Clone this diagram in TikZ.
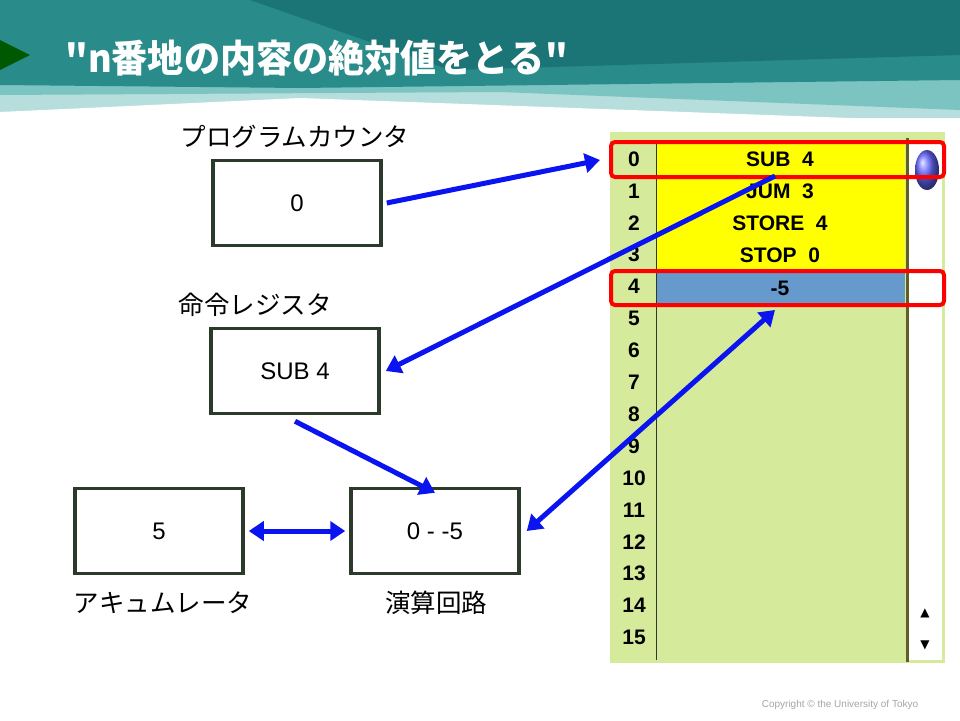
\documentclass[tikz,border=0pt]{standalone}
\usepackage{fontspec}
\setmainfont{Liberation Sans}
\newfontfamily\cjk{Noto Sans CJK JP}
\newfontfamily\djsym{DejaVu Sans}
\usetikzlibrary{arrows.meta}
\definecolor{teal1}{HTML}{1B7476}
\definecolor{teal2}{HTML}{2A8C8A}
\definecolor{teal3}{HTML}{7CC4C2}
\definecolor{teal4}{HTML}{B5DEDC}
\definecolor{boxc}{HTML}{2B3A2B}
\definecolor{lg}{HTML}{D6EA9C}
\definecolor{ylw}{HTML}{FFFF00}
\definecolor{mb}{HTML}{6699CC}
\definecolor{arr}{HTML}{0A14F0}
\tikzset{
 reg/.style={draw=boxc,line width=3.5pt,minimum width=168pt,minimum height=85pt,font=\fontsize{24}{28}\selectfont,inner sep=0},
 lab/.style={font=\cjk\fontsize{25.5}{28}\selectfont,inner sep=0},
 arrw/.style={draw=arr,line width=5pt,-{Triangle[length=15pt,width=19pt]}},
 darrw/.style={draw=arr,line width=5pt,{Triangle[length=15pt,width=19pt]}-{Triangle[length=15pt,width=19pt]}},
 redb/.style={draw=red,line width=4pt,rounded corners=4pt},
 memt/.style={font=\bfseries\fontsize{21}{24}\selectfont,inner sep=0}
}
\begin{document}
\begin{tikzpicture}[x=1pt,y=-1pt]
\useasboundingbox (0,0) rectangle (960,720);
\fill[white] (0,0) rectangle (960,720);
% header
\fill[teal4] (0,0) rectangle (960,118);
\fill[teal3] (0,0) -- (960,0) -- (960,110) -- (500,92) -- (0,95) -- cycle;
\fill[teal2] (0,0) -- (960,0) -- (960,80) -- (300,88) -- (0,85) -- cycle;
\fill[teal1] (250,0) -- (960,0) -- (960,55) -- (450,70) -- cycle;
\fill[white] (0,120) -- (0,112) -- (300,98) -- (960,122) -- cycle;
\fill[green!35!black] (0,40) -- (30,55) -- (0,70) -- cycle;
\node[anchor=west,text=white,font=\cjk\bfseries\fontsize{38}{42}\selectfont,xscale=0.95] (title) at (62,58) {"n番地の内容の絶対値をとる"};
% memory panel
\fill[lg] (610,132) rectangle (945,663);
\fill[white] (908,140) rectangle (942,660);
\draw[line width=3pt,olive!60!black] (907,138) -- (907,662);
\draw[boxc,line width=1pt] (656,140) -- (656,660);
\fill[ylw] (657,143) rectangle (905,271);
\fill[mb] (657,273) rectangle (905,303);
\foreach \i in {0,...,15} {\node[memt] (n\i) at (634,159+31.9*\i) {\i};}
\node[memt] (m0) at (780,159) {SUB\ \ 4};
\node[memt] (m1) at (780,191) {JUM\ \ 3};
\node[memt] (m2) at (780,223) {STORE\ \ 4};
\node[memt] (m3) at (780,255) {STOP\ \ 0};
\node[memt] (m4) at (780,288) {-5};
\shade[ball color=blue!60] (927,170) ellipse (12pt and 20pt);
\node[font=\djsym\fontsize{12}{12}\selectfont] (up) at (925,613) {▲};
\node[font=\djsym\fontsize{12}{12}\selectfont] (dn) at (925,645) {▼};
\draw[redb] (611,142) rectangle (944,177);
\coordinate (r0w) at (600,160);
\coordinate (r4s) at (775,310);
\coordinate (r0s) at (775,176);
\draw[redb] (611,271) rectangle (944,305);
% registers
\node[reg] (pc) at (297,203) {0};
\node[reg] (ir) at (295,371) {SUB 4};
\node[reg] (acc) at (159,531) {5};
\node[reg] (alu) at (435,531) {0 - -5};
\node[lab] (lpc) at (295,137) {プログラムカウンタ};
\node[lab] (lir) at (255,305) {命令レジスタ};
\node[lab] (lacc) at (163,603) {アキュムレータ};
\node[lab] (lalu) at (436,603) {演算回路};
% arrows
\draw[arrw] ([xshift=4pt]pc.east) -- (r0w);
\draw[arrw] (r0s) -- ([xshift=5pt]ir.east);
\draw[arrw] ([yshift=-6pt]ir.south) -- ([yshift=-6pt]alu.north);
\draw[darrw] ([xshift=6pt]alu.east) -- (r4s);
\draw[darrw] ([xshift=4pt]acc.east) -- ([xshift=-4pt]alu.west);
\node[text=gray!70,font=\fontsize{10}{12}\selectfont] (copy) at (840,705) {Copyright © the University of Tokyo};
\end{tikzpicture}
\end{document}
